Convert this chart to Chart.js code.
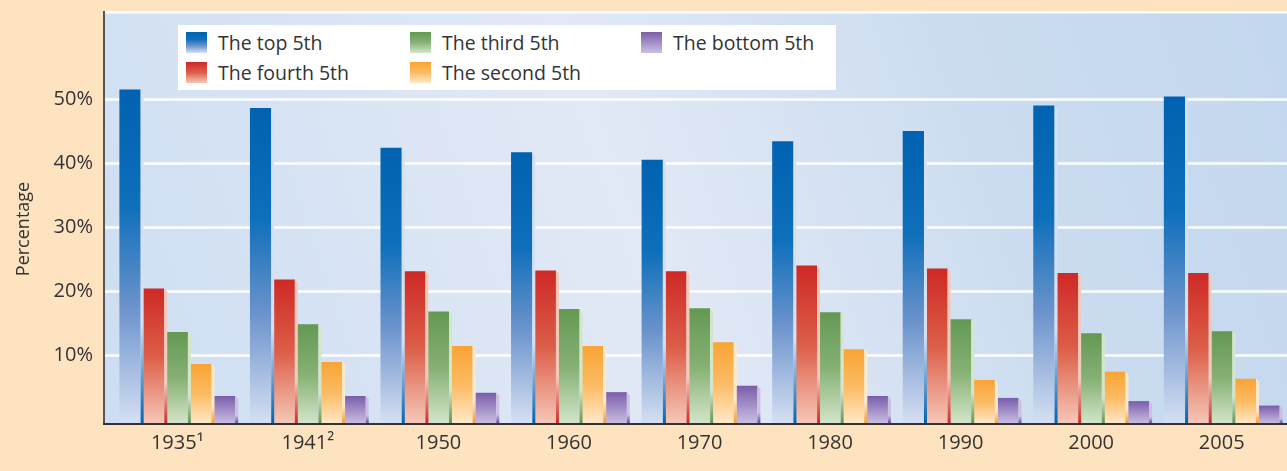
<!DOCTYPE html>
<html>
<head>
<meta charset="utf-8">
<title>Income share by fifth</title>
<script src="https://cdn.jsdelivr.net/npm/chart.js@4.4.0/dist/chart.umd.min.js"></script>
<style>
  html, body { margin: 0; padding: 0; background: #fee3c1; }
  #wrap { position: relative; width: 1287px; height: 471px; }
  #legend {
    position: absolute; left: 178px; top: 25px; width: 658px; height: 65px;
    background: #fff; font-family: "Open Sans", sans-serif; font-size: 19.5px; color: #333;
  }
  .item { position: absolute; display: flex; align-items: center; height: 21px; }
  .sw { width: 21px; height: 21px; margin-right: 11px; }
</style>
</head>
<body>
<div id="wrap">
  <canvas id="incomeChart" width="1287" height="471"></canvas>
  <div id="legend"></div>
</div>
<script>
// Data
const years = ['1935\u00b9', '1941\u00b2', '1950', '1960', '1970', '1980', '1990', '2000', '2005'];
const topFifth = [51.5, 48.6, 42.4, 41.7, 40.5, 43.4, 45.0, 49.0, 50.4];
const fourthFifth = [20.4, 21.8, 23.1, 23.2, 23.1, 24.0, 23.5, 22.8, 22.8];
const thirdFifth = [13.6, 14.8, 16.8, 17.2, 17.3, 16.7, 15.6, 13.4, 13.7];
const secondFifth = [8.6, 8.9, 11.4, 11.4, 12.0, 10.9, 6.1, 7.4, 6.3];
const bottomFifth = [3.6, 3.6, 4.1, 4.2, 5.2, 3.6, 3.3, 2.8, 2.1];
const yTicks = [10, 20, 30, 40, 50];

const Y_MIN = -0.78;
const Y_MAX = 63.6;
const FONT = '"Open Sans", sans-serif';
const TEXT = '#333333';

// gradient stops for each series, dark at the top of the bar, pale at the base
const palettes = {
  top:    { edge: '#0062ae', stops: [[0, '#0062b0'], [0.35, '#0e6fbb'], [0.65, '#6b93cc'], [1, '#d6e0f3']] },
  fourth: { edge: '#cc2926', stops: [[0, '#ce2926'], [0.5, '#dc5e48'], [1, '#f6c8b8']] },
  third:  { edge: '#5f9450', stops: [[0, '#639953'], [0.5, '#86b074'], [1, '#d4e6ca']] },
  second: { edge: '#f49b2c', stops: [[0, '#f9a434'], [0.5, '#fcbb63'], [1, '#ffe9ca']] },
  bottom: { edge: '#5b3f98', stops: [[0, '#7a5daa'], [1, '#cbc0e2']] }
};

function barFill(key) {
  return function(context) {
    const chart = context.chart;
    const y = chart.scales.y;
    if (!chart.chartArea || !y || context.raw == null) return palettes[key].stops[0][1];
    const top = y.getPixelForValue(context.raw);
    const base = y.getPixelForValue(Y_MIN);
    const g = chart.ctx.createLinearGradient(0, top, 0, base);
    palettes[key].stops.forEach(s => g.addColorStop(s[0], s[1]));
    return g;
  };
}

function makeSet(label, data, key) {
  return {
    label: label,
    data: data,
    base: Y_MIN,
    paletteKey: key,
    backgroundColor: barFill(key),
    borderWidth: 0,
    barPercentage: 0.9,
    categoryPercentage: 0.905
  };
}

const datasets = [
  makeSet('The top 5th', topFifth, 'top'),
  makeSet('The fourth 5th', fourthFifth, 'fourth'),
  makeSet('The third 5th', thirdFifth, 'third'),
  makeSet('The second 5th', secondFifth, 'second'),
  makeSet('The bottom 5th', bottomFifth, 'bottom')
];

// plot background, gridlines and axis lines (the frame starts 8px left of the bars' area)
const framePlugin = {
  id: 'frame',
  beforeDraw(chart) {
    const { ctx, chartArea: a, width } = chart;
    ctx.save();
    ctx.fillStyle = '#fee3c1';
    ctx.fillRect(0, 0, width, chart.height);
    const left = a.left - 8;
    const g = ctx.createLinearGradient(left, a.bottom, width, a.top);
    g.addColorStop(0, '#cddef2');
    g.addColorStop(0.45, '#e2e9f6');
    g.addColorStop(0.75, '#cbdcf0');
    g.addColorStop(1, '#c3d7ee');
    ctx.fillStyle = g;
    ctx.fillRect(left, a.top, width - left, a.bottom - a.top);
    ctx.fillStyle = '#ffffff';
    ctx.fillRect(left, a.top - 1, width - left, 2.5);
    ctx.restore();
  },
  beforeDatasetsDraw(chart) {
    const { ctx, chartArea: a, width } = chart;
    const y = chart.scales.y;
    ctx.save();
    ctx.strokeStyle = '#ffffff';
    ctx.lineWidth = 2.5;
    yTicks.forEach(v => {
      const py = Math.round(y.getPixelForValue(v)) + 0.5;
      ctx.beginPath();
      ctx.moveTo(a.left - 8, py);
      ctx.lineTo(width, py);
      ctx.stroke();
    });
    ctx.restore();
  },
  afterDatasetsDraw(chart) {
    const { ctx, chartArea: a, width } = chart;
    ctx.save();
    // side face of each bar
    chart.data.datasets.forEach((ds, i) => {
      const pal = palettes[ds.paletteKey];
      chart.getDatasetMeta(i).data.forEach(bar => {
        const x = bar.x + bar.width / 2;
        const g = ctx.createLinearGradient(0, bar.y, 0, bar.base);
        g.addColorStop(0, pal.stops[pal.stops.length - 1][1]);
        g.addColorStop(0.7, pal.stops[pal.stops.length - 1][1]);
        g.addColorStop(1, pal.edge);
        ctx.fillStyle = g;
        ctx.beginPath();
        ctx.moveTo(x, bar.y);
        ctx.lineTo(x + 3, bar.y + 3);
        ctx.lineTo(x + 3, bar.base);
        ctx.lineTo(x, bar.base);
        ctx.closePath();
        ctx.fill();
      });
    });
    // axis lines
    ctx.fillStyle = '#555555';
    ctx.fillRect(a.left - 9, a.top - 1, 2, a.bottom - a.top + 2);
    ctx.fillStyle = '#333333';
    ctx.fillRect(a.left - 9, a.bottom - 1, width - a.left + 9, 2);
    // axis title
    ctx.fillStyle = TEXT;
    ctx.font = '18px ' + FONT;
    ctx.textAlign = 'center';
    ctx.textBaseline = 'middle';
    ctx.translate(24, 229);
    ctx.rotate(-Math.PI / 2);
    ctx.fillText('Percentage', 0, 0);
    ctx.restore();
  }
};

const ctx = document.getElementById('incomeChart').getContext('2d');
const incomeChart = new Chart(ctx, {
  type: 'bar',
  data: { labels: years, datasets: datasets },
  options: {
    responsive: false,
    animation: false,
    layout: { padding: { top: 12, right: 0, left: 0, bottom: 0 } },
    plugins: {
      legend: { display: false },
      tooltip: { enabled: false }
    },
    scales: {
      x: {
        grid: { display: false, drawTicks: false },
        border: { display: false },
        ticks: { color: TEXT, font: { family: FONT, size: 20 }, padding: 7, maxRotation: 0 },
        afterFit: s => { s.height = 47; s.paddingLeft = 0; s.paddingRight = 0; }
      },
      y: {
        min: Y_MIN,
        max: Y_MAX,
        grid: { display: false, drawTicks: false },
        border: { display: false },
        afterBuildTicks: s => { s.ticks = yTicks.map(v => ({ value: v })); },
        ticks: {
          color: TEXT,
          font: { family: FONT, size: 20 },
          padding: 19,
          callback: v => v + '%'
        },
        afterFit: s => { s.width = 112; s.paddingTop = 0; s.paddingBottom = 0; }
      }
    }
  },
  plugins: [framePlugin]
});

// legend laid out in columns like the original
const legendItems = [
  { label: 'The top 5th', key: 'top', x: 8, y: 7 },
  { label: 'The fourth 5th', key: 'fourth', x: 8, y: 37 },
  { label: 'The third 5th', key: 'third', x: 232, y: 7 },
  { label: 'The second 5th', key: 'second', x: 232, y: 37 },
  { label: 'The bottom 5th', key: 'bottom', x: 463, y: 7 }
];
const legendEl = document.getElementById('legend');
legendItems.forEach(it => {
  const stops = palettes[it.key].stops.map(s => s[1] + ' ' + (s[0] * 100) + '%').join(', ');
  const div = document.createElement('div');
  div.className = 'item';
  div.style.left = it.x + 'px';
  div.style.top = it.y + 'px';
  div.innerHTML = '<span class="sw" style="background: linear-gradient(to bottom, ' + stops + ')"></span><span>' + it.label + '</span>';
  legendEl.appendChild(div);
});
</script>
</body>
</html>
